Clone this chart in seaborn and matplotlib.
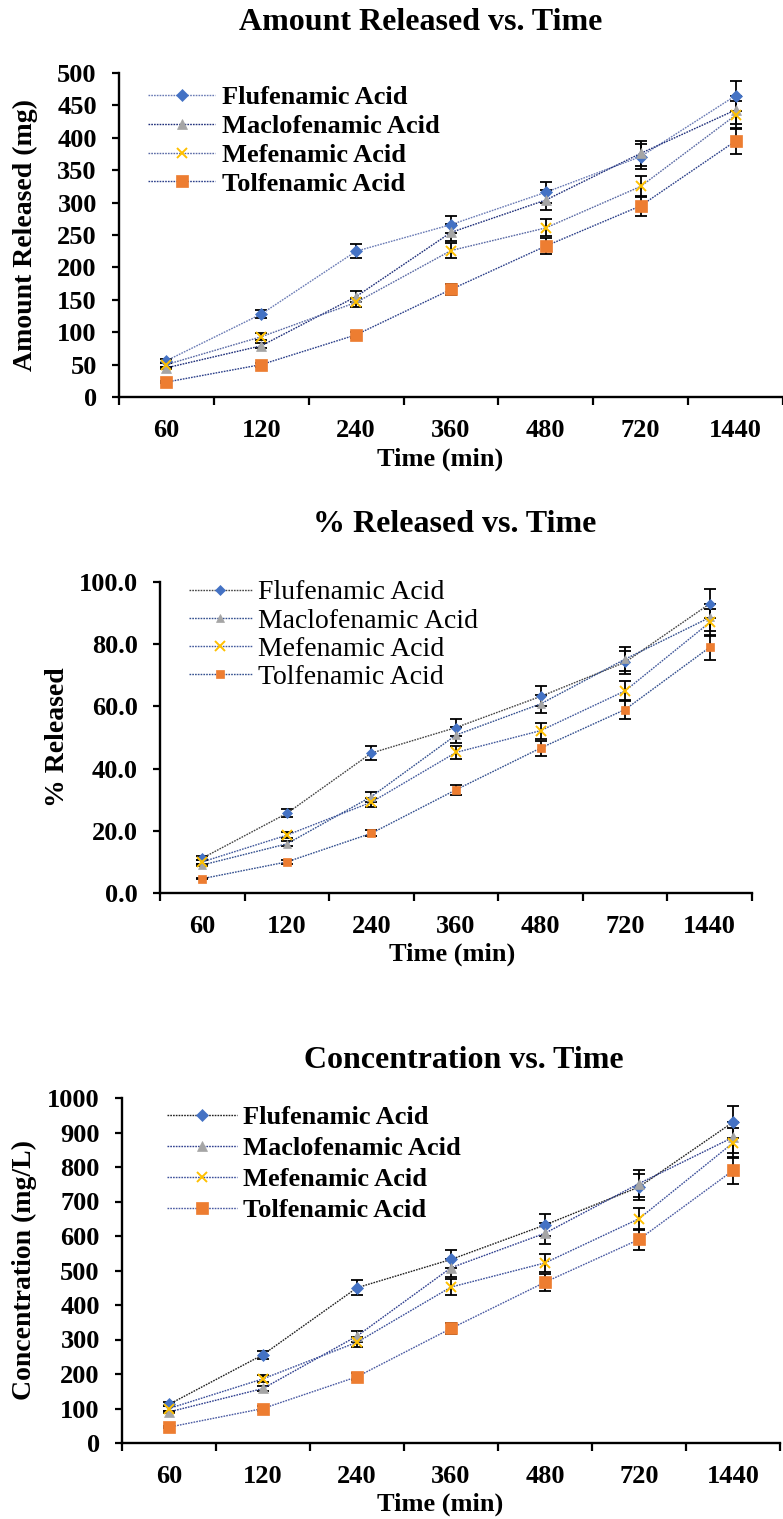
import numpy as np
import pandas as pd
import matplotlib
matplotlib.use("Agg")
import matplotlib.pyplot as plt
import seaborn as sns

sns.set_theme(style="white")
plt.rcParams['font.family'] = ['Liberation Serif', 'DejaVu Serif']
plt.rcParams['text.color'] = 'black'
plt.rcParams['axes.labelcolor'] = 'black'

# data
times = ["60", "120", "240", "360", "480", "720", "1440"]
drugs = ["Flufenamic Acid", "Maclofenamic Acid", "Mefenamic Acid", "Tolfenamic Acid"]

amount_fluf = [56, 128, 225, 266, 316, 371, 465]
amount_macl = [45, 79, 155, 254, 304, 376, 443]
amount_mef = [50, 93, 146, 226, 261, 325, 435]
amount_tolf = [23, 50, 96, 166, 233, 295, 395]
amount_err_fluf = [3, 6, 11, 13, 16, 19, 23]
amount_err_macl = [2, 4, 8, 13, 15, 19, 22]
amount_err_mef = [3, 5, 7, 11, 13, 16, 22]
amount_err_tolf = [1, 3, 5, 8, 12, 15, 20]

pct_fluf = [11.2, 25.6, 45.0, 53.2, 63.2, 74.2, 93.0]
pct_macl = [9.0, 15.8, 31.0, 50.8, 60.8, 75.2, 88.6]
pct_mef = [10.0, 18.6, 29.2, 45.2, 52.2, 65.0, 87.0]
pct_tolf = [4.6, 10.0, 19.2, 33.2, 46.6, 59.0, 79.0]
pct_err_fluf = [0.6, 1.3, 2.3, 2.7, 3.2, 3.7, 4.6]
pct_err_macl = [0.4, 0.8, 1.6, 2.6, 3.0, 3.8, 4.4]
pct_err_mef = [0.6, 1.0, 1.4, 2.2, 2.6, 3.2, 4.4]
pct_err_tolf = [0.2, 0.6, 1.0, 1.6, 2.4, 3.0, 4.0]

conc_fluf = [112, 256, 450, 532, 632, 742, 930]
conc_macl = [90, 158, 310, 508, 608, 752, 886]
conc_mef = [100, 186, 292, 452, 522, 650, 870]
conc_tolf = [46, 100, 192, 332, 466, 590, 790]
conc_err_fluf = [6, 12, 22, 26, 32, 38, 46]
conc_err_macl = [4, 8, 16, 26, 30, 38, 44]
conc_err_mef = [6, 10, 14, 22, 26, 32, 44]
conc_err_tolf = [2, 6, 10, 16, 24, 30, 40]

# marker styles (Excel default palette)
markers = ["D", "^", "x", "s"]
marker_colors = ["#4472C4", "#A5A5A5", "#FFC000", "#ED7D31"]

W, H = 783, 1519
fig = plt.figure(figsize=(W / 100, H / 100), dpi=100)


def box(l, t, r, b):
    # pixel box -> figure fraction
    return [l / W, 1 - b / H, (r - l) / W, (b - t) / H]


def draw_panel(rect, series, errors, line_colors, ylim, yticks, yfmt, title, title_xy,
               ylabel, ylabel_x, xlabel_xy, legend_xy, legend_kw, msize):
    ax = fig.add_axes(box(*rect))
    l, t, r, b = rect
    pos = np.arange(len(times))
    for i, name in enumerate(drugs):
        df = pd.DataFrame({"pos": pos, "val": series[i]})
        sns.lineplot(data=df, x="pos", y="val", ax=ax, color=line_colors[i],
                     linestyle=(0, (1.2, 0.8)), linewidth=1.0,
                     marker=markers[i], markersize=msize[i],
                     markerfacecolor=marker_colors[i], markeredgecolor=marker_colors[i],
                     markeredgewidth=1.4 if markers[i] == "x" else 0.5,
                     label=name, zorder=3)
        ax.errorbar(pos, series[i], yerr=errors[i], fmt="none", ecolor="black",
                    elinewidth=1.3, capsize=4.5, capthick=1.3, zorder=2)

    ax.set_xlim(-0.5, len(times) - 0.5)
    ax.set_ylim(*ylim)
    ax.set_xticks(pos)
    ax.set_xticklabels(times)
    ax.set_xticks(np.arange(len(times) + 1) - 0.5, minor=True)
    ax.set_yticks(yticks)
    ax.set_yticklabels([yfmt.format(v) for v in yticks])
    ax.tick_params(axis="x", which="major", length=0, pad=16, labelsize=19)
    ax.tick_params(axis="x", which="minor", length=6, width=1.6, direction="out",
                   color="black", bottom=True)
    ax.tick_params(axis="y", length=5, width=1.6, direction="out", color="black",
                   left=True, pad=11, labelsize=19)
    for lab in ax.get_xticklabels() + ax.get_yticklabels():
        lab.set_fontweight("bold")
        lab.set_color("black")

    sns.despine(ax=ax)
    for side in ["left", "bottom"]:
        ax.spines[side].set_linewidth(1.7)
        ax.spines[side].set_color("black")

    ax.set_xlabel("Time (min)", fontsize=19, fontweight="bold", color="black")
    ax.xaxis.set_label_coords((xlabel_xy[0] - l) / (r - l), (b - xlabel_xy[1]) / (b - t))
    ax.set_ylabel(ylabel, fontsize=20, fontweight="bold", color="black")
    ax.yaxis.set_label_coords((ylabel_x - l) / (r - l), 0.5)

    fig.text(title_xy[0] / W, 1 - title_xy[1] / H, title, ha="center", va="center",
             fontsize=23, fontweight="bold", color="black")

    ax.legend(loc="upper left", bbox_to_anchor=(legend_xy[0] / W, 1 - legend_xy[1] / H),
              bbox_transform=fig.transFigure, frameon=False, borderpad=0,
              borderaxespad=0, numpoints=1, labelcolor="black", **legend_kw)
    return ax


draw_panel((119, 73, 783, 397),
           [amount_fluf, amount_macl, amount_mef, amount_tolf],
           [amount_err_fluf, amount_err_macl, amount_err_mef, amount_err_tolf],
           ["#6A7BB5", "#1F2F7A", "#5A6AA5", "#2C408A"],
           (0, 500), np.arange(0, 501, 50), "{:.0f}",
           "Amount Released vs. Time", (421, 22),
           "Amount Released (mg)", 38, (440, 448), (148, 86),
           dict(prop={"size": 19, "weight": "bold"}, handlelength=2.55,
                handletextpad=0.27, labelspacing=0.2),
           [6.5, 7, 7, 8])

draw_panel((160, 582, 752, 893),
           [pct_fluf, pct_macl, pct_mef, pct_tolf],
           [pct_err_fluf, pct_err_macl, pct_err_mef, pct_err_tolf],
           ["#454545", "#34508F", "#42599C", "#34508F"],
           (0, 100), np.arange(0, 101, 20), "{:.1f}",
           "% Released vs. Time", (455, 525),
           "% Released", 70, (452, 943), (189, 580),
           dict(prop={"size": 20}, handlelength=2.25,
                handletextpad=0.22, labelspacing=0.1),
           [5, 5.5, 7, 6])

draw_panel((122, 1098, 780, 1443),
           [conc_fluf, conc_macl, conc_mef, conc_tolf],
           [conc_err_fluf, conc_err_macl, conc_err_mef, conc_err_tolf],
           ["#202020", "#2F3F8F", "#3B4F9A", "#4A5AA2"],
           (0, 1000), np.arange(0, 1001, 100), "{:.0f}",
           "Concentration vs. Time", (464, 1060),
           "Concentration (mg/L)", 37, (440, 1493), (167, 1106),
           dict(prop={"size": 19, "weight": "bold"}, handlelength=2.65,
                handletextpad=0.23, labelspacing=0.28),
           [6.5, 7, 7, 8])

fig.savefig("out.png", dpi=100)
